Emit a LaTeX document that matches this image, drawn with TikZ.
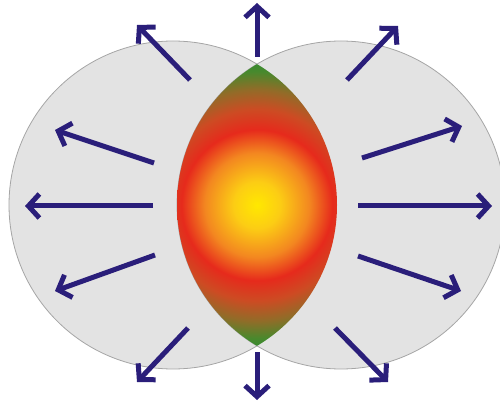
\documentclass[tikz,border=0pt]{standalone}
\usetikzlibrary{arrows.meta}
\definecolor{discgray}{RGB}{227,227,227}
\definecolor{discedge}{RGB}{165,165,165}
\definecolor{arrowblue}{RGB}{42,30,122}
\pgfdeclareradialshading{lensshade}{\pgfpoint{0bp}{0bp}}{%
  color(0bp)=(rgb,255:red,255;green,232;blue,0);
  color(4bp)=(rgb,255:red,252;green,205;blue,20);
  color(9bp)=(rgb,255:red,243;green,135;blue,32);
  color(13bp)=(rgb,255:red,230;green,42;blue,28);
  color(16.5bp)=(rgb,255:red,205;green,75;blue,35);
  color(20bp)=(rgb,255:red,145;green,108;blue,40);
  color(23bp)=(rgb,255:red,72;green,137;blue,45);
  color(25bp)=(rgb,255:red,50;green,140;blue,50);
  color(50bp)=(rgb,255:red,50;green,140;blue,50)}
\tikzset{
  disc/.style={fill=discgray,draw=discedge,line width=0.8pt},
  ray/.style={draw=arrowblue,line width=5pt,
    -{Straight Barb[length=11pt,width=24pt,line width=5pt]}}
}
\begin{document}
\begin{tikzpicture}[x=1pt,y=-1pt]
\useasboundingbox (0,0) rectangle (500,403);
\clip (0,0) rectangle (500,403);
% discs
\coordinate (cl) at (173,205);
\coordinate (cr) at (341,205);
\coordinate (cc) at (257,205);
\path[disc] (cl) circle (164);
\path[disc] (cr) circle (164);
% lens
\begin{scope}
  \clip (cl) circle (164);
  \clip (cr) circle (164);
  \shade[shading=lensshade] (cc) circle (145);
\end{scope}
% arrows
\coordinate (t1) at (257,57);  \coordinate (h1) at (257,3);
\coordinate (t2) at (257,352); \coordinate (h2) at (257,400);
\coordinate (t3) at (153,206); \coordinate (h3) at (25,206);
\coordinate (t4) at (358,206); \coordinate (h4) at (492,206);
\coordinate (t5) at (154,163); \coordinate (h5) at (55,130);
\coordinate (t6) at (190,80);  \coordinate (h6) at (137,25);
\coordinate (t7) at (347,80);  \coordinate (h7) at (398,26);
\coordinate (t8) at (362,158); \coordinate (h8) at (462,126);
\coordinate (t9) at (155,255); \coordinate (h9) at (55,291);
\coordinate (t10) at (188,328); \coordinate (h10) at (137,382);
\coordinate (t11) at (358,256); \coordinate (h11) at (461,291);
\coordinate (t12) at (335,328); \coordinate (h12) at (388,382);
\foreach \i in {1,...,12} {
  \draw[ray] (t\i) -- (h\i);
}
\end{tikzpicture}
\end{document}
